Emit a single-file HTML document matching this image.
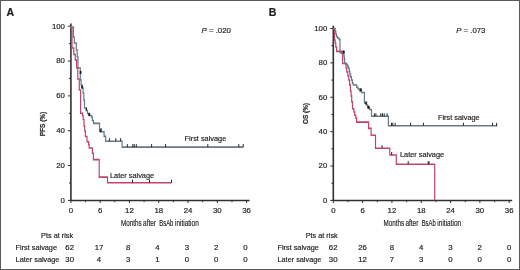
<!DOCTYPE html>
<html><head><meta charset="utf-8"><title>Kaplan-Meier survival curves</title>
<style>
html,body{margin:0;padding:0;background:#fff;}
body{width:520px;height:270px;overflow:hidden;position:relative;}
svg{position:absolute;left:0;top:0;display:block;}
svg text{font-family:"Liberation Sans", sans-serif;fill:#1e1e1e;stroke:#1e1e1e;stroke-width:0.18px;}
svg{will-change:transform;}
</style></head>
<body>
<svg width="520" height="270" viewBox="0 0 520 270">
<rect x="0.5" y="0.5" width="519" height="269" fill="#fff" stroke="#5a5a5a" stroke-width="1"/>
<line x1="70.9" y1="23.4" x2="70.9" y2="201" stroke="#303030" stroke-width="1.6"/>
<line x1="70.3" y1="200.55" x2="249.58" y2="200.55" stroke="#303030" stroke-width="1.55"/>
<line x1="67.9" y1="200.4" x2="70.9" y2="200.4" stroke="#303030" stroke-width="1"/>
<text x="64.9" y="202.7" text-anchor="end" font-size="7.8">0</text>
<line x1="68.9" y1="182.98" x2="70.9" y2="182.98" stroke="#303030" stroke-width="1"/>
<line x1="67.9" y1="165.56" x2="70.9" y2="165.56" stroke="#303030" stroke-width="1"/>
<text x="64.9" y="167.86" text-anchor="end" font-size="7.8">20</text>
<line x1="68.9" y1="148.14" x2="70.9" y2="148.14" stroke="#303030" stroke-width="1"/>
<line x1="67.9" y1="130.72" x2="70.9" y2="130.72" stroke="#303030" stroke-width="1"/>
<text x="64.9" y="133.02" text-anchor="end" font-size="7.8">40</text>
<line x1="68.9" y1="113.3" x2="70.9" y2="113.3" stroke="#303030" stroke-width="1"/>
<line x1="67.9" y1="95.88" x2="70.9" y2="95.88" stroke="#303030" stroke-width="1"/>
<text x="64.9" y="98.18" text-anchor="end" font-size="7.8">60</text>
<line x1="68.9" y1="78.46" x2="70.9" y2="78.46" stroke="#303030" stroke-width="1"/>
<line x1="67.9" y1="61.04" x2="70.9" y2="61.04" stroke="#303030" stroke-width="1"/>
<text x="64.9" y="63.34" text-anchor="end" font-size="7.8">80</text>
<line x1="68.9" y1="43.62" x2="70.9" y2="43.62" stroke="#303030" stroke-width="1"/>
<line x1="67.9" y1="26.2" x2="70.9" y2="26.2" stroke="#303030" stroke-width="1"/>
<text x="64.9" y="28.5" text-anchor="end" font-size="7.8">100</text>
<line x1="70.9" y1="200.4" x2="70.9" y2="203" stroke="#303030" stroke-width="1"/>
<text x="70.9" y="212.6" text-anchor="middle" font-size="7.8">0</text>
<line x1="85.54" y1="200.4" x2="85.54" y2="202.2" stroke="#303030" stroke-width="1"/>
<line x1="100.18" y1="200.4" x2="100.18" y2="203" stroke="#303030" stroke-width="1"/>
<text x="100.18" y="212.6" text-anchor="middle" font-size="7.8">6</text>
<line x1="114.82" y1="200.4" x2="114.82" y2="202.2" stroke="#303030" stroke-width="1"/>
<line x1="129.46" y1="200.4" x2="129.46" y2="203" stroke="#303030" stroke-width="1"/>
<text x="129.46" y="212.6" text-anchor="middle" font-size="7.8">12</text>
<line x1="144.1" y1="200.4" x2="144.1" y2="202.2" stroke="#303030" stroke-width="1"/>
<line x1="158.74" y1="200.4" x2="158.74" y2="203" stroke="#303030" stroke-width="1"/>
<text x="158.74" y="212.6" text-anchor="middle" font-size="7.8">18</text>
<line x1="173.38" y1="200.4" x2="173.38" y2="202.2" stroke="#303030" stroke-width="1"/>
<line x1="188.02" y1="200.4" x2="188.02" y2="203" stroke="#303030" stroke-width="1"/>
<text x="188.02" y="212.6" text-anchor="middle" font-size="7.8">24</text>
<line x1="202.66" y1="200.4" x2="202.66" y2="202.2" stroke="#303030" stroke-width="1"/>
<line x1="217.3" y1="200.4" x2="217.3" y2="203" stroke="#303030" stroke-width="1"/>
<text x="217.3" y="212.6" text-anchor="middle" font-size="7.8">30</text>
<line x1="231.94" y1="200.4" x2="231.94" y2="202.2" stroke="#303030" stroke-width="1"/>
<line x1="246.58" y1="200.4" x2="246.58" y2="203" stroke="#303030" stroke-width="1"/>
<text x="246.58" y="212.6" text-anchor="middle" font-size="7.8">36</text>
<g transform="scale(1,1.35)">
<path d="M70.9,19.407 V20.741 H72 V35.556 H73.8 V40.37 H75.3 V44.444 H76.6 V50.37 H77.8 V58.519 H79.3 V66.667 H80.6 V83.852 H82.5 V85.556 H83.2 V88.519 H84 V93.333 H84.7 V97.037 H85.4 V101.111 H87 V104.963 H88.6 V107.037 H89.2 V109.63 H92.4 V113.481 H93.4 V118.222 H99.2 V131.185 H107.5 V135.333 H171.6" fill="none" stroke="#c2446c" stroke-width="1.2"/>
<path d="M70.9,19.407 V20 H73.4 V27.407 H74.3 V31.852 H76.3 V37.037 H77.2 V42.222 H78 V50.37 H80.3 V59.259 H81.1 V62.963 H82.1 V65.185 H83.1 V68.889 H83.8 V74.074 H84.5 V80 H86 V81.852 H87.5 V84.074 H89.2 V85.556 H91.5 V86.667 H92.3 V89.259 H93.5 V91.407 H99.5 V95.556 H101.5 V97.556 H104.1 V101.037 H105.7 V104.593 H122.1 V108.963 H243.4" fill="none" stroke="#687888" stroke-width="1.2"/>
</g>
<rect x="79.7" y="71" width="1.8" height="3.0" fill="#1a1a1a"/>
<rect x="81.2" y="85.5" width="1.8" height="3.0" fill="#1a1a1a"/>
<rect x="88.3" y="113" width="1.8" height="3.0" fill="#1a1a1a"/>
<rect x="99.4" y="129.3" width="1.8" height="3.0" fill="#1a1a1a"/>
<line x1="109.4" y1="138.2" x2="109.4" y2="141.2" stroke="#262626" stroke-width="1.0"/>
<line x1="115.8" y1="138.2" x2="115.8" y2="141.2" stroke="#262626" stroke-width="1.0"/>
<line x1="120.6" y1="138.2" x2="120.6" y2="141.2" stroke="#262626" stroke-width="1.0"/>
<line x1="127.3" y1="144.1" x2="127.3" y2="147.1" stroke="#262626" stroke-width="1.0"/>
<line x1="132.8" y1="144.1" x2="132.8" y2="147.1" stroke="#262626" stroke-width="1.0"/>
<line x1="134.2" y1="144.1" x2="134.2" y2="147.1" stroke="#262626" stroke-width="1.0"/>
<line x1="136.3" y1="144.1" x2="136.3" y2="147.1" stroke="#262626" stroke-width="1.0"/>
<line x1="151.6" y1="144.1" x2="151.6" y2="147.1" stroke="#262626" stroke-width="1.0"/>
<line x1="165.6" y1="144.1" x2="165.6" y2="147.1" stroke="#262626" stroke-width="1.0"/>
<line x1="207.8" y1="144.1" x2="207.8" y2="147.1" stroke="#262626" stroke-width="1.0"/>
<line x1="238.8" y1="144.1" x2="238.8" y2="147.1" stroke="#262626" stroke-width="1.0"/>
<line x1="243.2" y1="144.1" x2="243.2" y2="147.1" stroke="#262626" stroke-width="1.0"/>
<line x1="86.5" y1="107.5" x2="86.5" y2="110.5" stroke="#262626" stroke-width="1.0"/>
<line x1="132.5" y1="179.7" x2="132.5" y2="182.7" stroke="#262626" stroke-width="1.0"/>
<line x1="149.5" y1="179.7" x2="149.5" y2="182.7" stroke="#262626" stroke-width="1.0"/>
<line x1="171.5" y1="179.7" x2="171.5" y2="182.7" stroke="#262626" stroke-width="1.0"/>
<text x="6.6" y="15.6" font-size="10.6" font-weight="bold" fill="#111" stroke="#111" stroke-width="0.3">A</text>
<text x="201.6" y="33.3" font-size="7.8"><tspan font-style="italic">P</tspan> = .020</text>
<text transform="translate(45.4,124) rotate(-90)" x="0" y="0" text-anchor="middle" font-size="8.1" font-weight="bold" fill="#2a2a2a" stroke-width="0" textLength="24.5" lengthAdjust="spacingAndGlyphs">PFS (%)</text>
<text x="121.05" y="226" font-size="9.8" fill="#1a1a1a" stroke="#1a1a1a" stroke-width="0.55" textLength="20.6" lengthAdjust="spacingAndGlyphs">Months</text>
<text x="143.05" y="226" font-size="9.8" fill="#1a1a1a" stroke="#1a1a1a" stroke-width="0.55" textLength="12.9" lengthAdjust="spacingAndGlyphs">after</text>
<text x="159.25" y="226" font-size="9.8" fill="#1a1a1a" stroke="#1a1a1a" stroke-width="0.55" textLength="14.1" lengthAdjust="spacingAndGlyphs">BsAb</text>
<text x="174.95" y="226" font-size="9.8" fill="#1a1a1a" stroke="#1a1a1a" stroke-width="0.55" textLength="23.8" lengthAdjust="spacingAndGlyphs">initiation</text>
<text x="184.6" y="140.8" font-size="7.35">First salvage</text>
<text x="110.0" y="177.6" font-size="7.35">Later salvage</text>
<text x="73.1" y="237.6" text-anchor="end" font-size="7.3">Pts at risk</text>
<text x="15.6" y="250.4" font-size="7.3">First salvage</text>
<text x="15.6" y="261.5" font-size="7.3">Later salvage</text>
<text x="69.7" y="250.4" text-anchor="middle" font-size="7.8">62</text>
<text x="98.98" y="250.4" text-anchor="middle" font-size="7.8">17</text>
<text x="128.26" y="250.4" text-anchor="middle" font-size="7.8">8</text>
<text x="157.54" y="250.4" text-anchor="middle" font-size="7.8">4</text>
<text x="186.82" y="250.4" text-anchor="middle" font-size="7.8">3</text>
<text x="216.1" y="250.4" text-anchor="middle" font-size="7.8">2</text>
<text x="245.38" y="250.4" text-anchor="middle" font-size="7.8">0</text>
<text x="69.7" y="261.5" text-anchor="middle" font-size="7.8">30</text>
<text x="98.98" y="261.5" text-anchor="middle" font-size="7.8">4</text>
<text x="128.26" y="261.5" text-anchor="middle" font-size="7.8">3</text>
<text x="157.54" y="261.5" text-anchor="middle" font-size="7.8">1</text>
<text x="186.82" y="261.5" text-anchor="middle" font-size="7.8">0</text>
<text x="216.1" y="261.5" text-anchor="middle" font-size="7.8">0</text>
<text x="245.38" y="261.5" text-anchor="middle" font-size="7.8">0</text>
<line x1="333.3" y1="25.7" x2="333.3" y2="201" stroke="#303030" stroke-width="1.6"/>
<line x1="332.7" y1="200.55" x2="512.196" y2="200.55" stroke="#303030" stroke-width="1.55"/>
<line x1="330.3" y1="200.4" x2="333.3" y2="200.4" stroke="#303030" stroke-width="1"/>
<text x="327.3" y="202.7" text-anchor="end" font-size="7.8">0</text>
<line x1="331.3" y1="183.21" x2="333.3" y2="183.21" stroke="#303030" stroke-width="1"/>
<line x1="330.3" y1="166.02" x2="333.3" y2="166.02" stroke="#303030" stroke-width="1"/>
<text x="327.3" y="168.32" text-anchor="end" font-size="7.8">20</text>
<line x1="331.3" y1="148.83" x2="333.3" y2="148.83" stroke="#303030" stroke-width="1"/>
<line x1="330.3" y1="131.64" x2="333.3" y2="131.64" stroke="#303030" stroke-width="1"/>
<text x="327.3" y="133.94" text-anchor="end" font-size="7.8">40</text>
<line x1="331.3" y1="114.45" x2="333.3" y2="114.45" stroke="#303030" stroke-width="1"/>
<line x1="330.3" y1="97.26" x2="333.3" y2="97.26" stroke="#303030" stroke-width="1"/>
<text x="327.3" y="99.56" text-anchor="end" font-size="7.8">60</text>
<line x1="331.3" y1="80.07" x2="333.3" y2="80.07" stroke="#303030" stroke-width="1"/>
<line x1="330.3" y1="62.88" x2="333.3" y2="62.88" stroke="#303030" stroke-width="1"/>
<text x="327.3" y="65.18" text-anchor="end" font-size="7.8">80</text>
<line x1="331.3" y1="45.69" x2="333.3" y2="45.69" stroke="#303030" stroke-width="1"/>
<line x1="330.3" y1="28.5" x2="333.3" y2="28.5" stroke="#303030" stroke-width="1"/>
<text x="327.3" y="30.8" text-anchor="end" font-size="7.8">100</text>
<line x1="333.3" y1="200.4" x2="333.3" y2="203" stroke="#303030" stroke-width="1"/>
<text x="333.3" y="212.6" text-anchor="middle" font-size="7.8">0</text>
<line x1="347.958" y1="200.4" x2="347.958" y2="202.2" stroke="#303030" stroke-width="1"/>
<line x1="362.616" y1="200.4" x2="362.616" y2="203" stroke="#303030" stroke-width="1"/>
<text x="362.616" y="212.6" text-anchor="middle" font-size="7.8">6</text>
<line x1="377.274" y1="200.4" x2="377.274" y2="202.2" stroke="#303030" stroke-width="1"/>
<line x1="391.932" y1="200.4" x2="391.932" y2="203" stroke="#303030" stroke-width="1"/>
<text x="391.932" y="212.6" text-anchor="middle" font-size="7.8">12</text>
<line x1="406.59" y1="200.4" x2="406.59" y2="202.2" stroke="#303030" stroke-width="1"/>
<line x1="421.248" y1="200.4" x2="421.248" y2="203" stroke="#303030" stroke-width="1"/>
<text x="421.248" y="212.6" text-anchor="middle" font-size="7.8">18</text>
<line x1="435.906" y1="200.4" x2="435.906" y2="202.2" stroke="#303030" stroke-width="1"/>
<line x1="450.564" y1="200.4" x2="450.564" y2="203" stroke="#303030" stroke-width="1"/>
<text x="450.564" y="212.6" text-anchor="middle" font-size="7.8">24</text>
<line x1="465.222" y1="200.4" x2="465.222" y2="202.2" stroke="#303030" stroke-width="1"/>
<line x1="479.88" y1="200.4" x2="479.88" y2="203" stroke="#303030" stroke-width="1"/>
<text x="479.88" y="212.6" text-anchor="middle" font-size="7.8">30</text>
<line x1="494.538" y1="200.4" x2="494.538" y2="202.2" stroke="#303030" stroke-width="1"/>
<line x1="509.196" y1="200.4" x2="509.196" y2="203" stroke="#303030" stroke-width="1"/>
<text x="509.196" y="212.6" text-anchor="middle" font-size="7.8">36</text>
<g transform="scale(1,1.35)">
<path d="M333.3,21.111 V21.481 H334.5 V29.63 H335.2 V31.852 H335.8 V34.815 H336.6 V38.074 H342.6 V47.037 H346 V50.37 H346.8 V53.333 H347.8 V56.148 H348.8 V59.259 H349.6 V62.963 H350.4 V67.407 H351.1 V71.111 H351.7 V75.481 H352.5 V80.593 H353.8 V82.963 H354.8 V85.333 H355.8 V87.407 H356.6 V90.444 H368.6 V95.111 H371.1 V100.222 H375.5 V109.778 H389.8 V114.815 H396.3 V121.63 H434.7 V148.444" fill="none" stroke="#c2446c" stroke-width="1.2"/>
<path d="M333.3,21.111 H335.2 V23.333 H335.8 V25.185 H336.5 V27.037 H337.5 V28.148 H339 V29.259 H340 V38.889 H341.5 V39.63 H343.9 V41.481 H344.3 V43.704 H344.7 V47.037 H346.5 V47.778 H347.5 V49.111 H348.3 V50.37 H349.2 V52.593 H349.8 V54.815 H350.6 V56.963 H351.5 V59.259 H352.4 V61.704 H353.3 V62.963 H356.7 V64.667 H357.9 V65.926 H359.5 V67.259 H361.5 V68.519 H364.4 V76.296 H366.3 V77.778 H367.6 V79.778 H369.5 V81.111 H371.5 V86.148 H388.4 V93.185 H497.3" fill="none" stroke="#687888" stroke-width="1.2"/>
</g>
<rect x="342.9" y="50.5" width="1.8" height="3.0" fill="#1a1a1a"/>
<rect x="359.9" y="88.3" width="1.8" height="3.0" fill="#1a1a1a"/>
<rect x="365.3" y="101.5" width="1.8" height="3.0" fill="#1a1a1a"/>
<rect x="367.7" y="105.7" width="1.8" height="3.0" fill="#1a1a1a"/>
<line x1="374.4" y1="113.3" x2="374.4" y2="116.3" stroke="#262626" stroke-width="1.0"/>
<line x1="375.9" y1="113.3" x2="375.9" y2="116.3" stroke="#262626" stroke-width="1.0"/>
<line x1="380.8" y1="113.3" x2="380.8" y2="116.3" stroke="#262626" stroke-width="1.0"/>
<line x1="382.5" y1="113.3" x2="382.5" y2="116.3" stroke="#262626" stroke-width="1.0"/>
<line x1="384.2" y1="113.3" x2="384.2" y2="116.3" stroke="#262626" stroke-width="1.0"/>
<line x1="387.1" y1="113.3" x2="387.1" y2="116.3" stroke="#262626" stroke-width="1.0"/>
<line x1="391.5" y1="122.8" x2="391.5" y2="125.8" stroke="#262626" stroke-width="1.0"/>
<line x1="392.8" y1="122.8" x2="392.8" y2="125.8" stroke="#262626" stroke-width="1.0"/>
<line x1="395.1" y1="122.8" x2="395.1" y2="125.8" stroke="#262626" stroke-width="1.0"/>
<line x1="410.6" y1="122.8" x2="410.6" y2="125.8" stroke="#262626" stroke-width="1.0"/>
<line x1="423.4" y1="122.8" x2="423.4" y2="125.8" stroke="#262626" stroke-width="1.0"/>
<line x1="463.4" y1="122.8" x2="463.4" y2="125.8" stroke="#262626" stroke-width="1.0"/>
<line x1="492.6" y1="122.8" x2="492.6" y2="125.8" stroke="#262626" stroke-width="1.0"/>
<line x1="496.6" y1="122.8" x2="496.6" y2="125.8" stroke="#262626" stroke-width="1.0"/>
<line x1="382.1" y1="145.2" x2="382.1" y2="148.2" stroke="#262626" stroke-width="1.0"/>
<line x1="391.7" y1="152" x2="391.7" y2="155" stroke="#262626" stroke-width="1.0"/>
<line x1="408.2" y1="161.2" x2="408.2" y2="164.2" stroke="#262626" stroke-width="1.0"/>
<line x1="428.2" y1="161.2" x2="428.2" y2="164.2" stroke="#262626" stroke-width="1.0"/>
<line x1="429" y1="161.2" x2="429" y2="164.2" stroke="#262626" stroke-width="1.0"/>
<text x="268.7" y="16.1" font-size="10.6" font-weight="bold" fill="#111" stroke="#111" stroke-width="0.3">B</text>
<text x="456.2" y="33.3" font-size="7.8"><tspan font-style="italic">P</tspan> = .073</text>
<text transform="translate(307.6,113.5) rotate(-90)" x="0" y="0" text-anchor="middle" font-size="8.1" font-weight="bold" fill="#2a2a2a" stroke-width="0" textLength="21" lengthAdjust="spacingAndGlyphs">OS (%)</text>
<text x="383.45" y="226.2" font-size="9.8" fill="#1a1a1a" stroke="#1a1a1a" stroke-width="0.55" textLength="20.6" lengthAdjust="spacingAndGlyphs">Months</text>
<text x="405.45" y="226.2" font-size="9.8" fill="#1a1a1a" stroke="#1a1a1a" stroke-width="0.55" textLength="12.9" lengthAdjust="spacingAndGlyphs">after</text>
<text x="421.65" y="226.2" font-size="9.8" fill="#1a1a1a" stroke="#1a1a1a" stroke-width="0.55" textLength="14.1" lengthAdjust="spacingAndGlyphs">BsAb</text>
<text x="437.35" y="226.2" font-size="9.8" fill="#1a1a1a" stroke="#1a1a1a" stroke-width="0.55" textLength="23.8" lengthAdjust="spacingAndGlyphs">initiation</text>
<text x="438.0" y="119.7" font-size="7.35">First salvage</text>
<text x="400.0" y="156.8" font-size="7.35">Later salvage</text>
<text x="337.7" y="237.6" text-anchor="end" font-size="7.3">Pts at risk</text>
<text x="277.5" y="250.4" font-size="7.3">First salvage</text>
<text x="277.5" y="261.5" font-size="7.3">Later salvage</text>
<text x="333.2" y="250.4" text-anchor="middle" font-size="7.8">62</text>
<text x="362.516" y="250.4" text-anchor="middle" font-size="7.8">26</text>
<text x="391.832" y="250.4" text-anchor="middle" font-size="7.8">8</text>
<text x="421.148" y="250.4" text-anchor="middle" font-size="7.8">4</text>
<text x="450.464" y="250.4" text-anchor="middle" font-size="7.8">3</text>
<text x="479.78" y="250.4" text-anchor="middle" font-size="7.8">2</text>
<text x="509.096" y="250.4" text-anchor="middle" font-size="7.8">0</text>
<text x="333.2" y="261.5" text-anchor="middle" font-size="7.8">30</text>
<text x="362.516" y="261.5" text-anchor="middle" font-size="7.8">12</text>
<text x="391.832" y="261.5" text-anchor="middle" font-size="7.8">7</text>
<text x="421.148" y="261.5" text-anchor="middle" font-size="7.8">3</text>
<text x="450.464" y="261.5" text-anchor="middle" font-size="7.8">0</text>
<text x="479.78" y="261.5" text-anchor="middle" font-size="7.8">0</text>
<text x="509.096" y="261.5" text-anchor="middle" font-size="7.8">0</text>
</svg>
</body></html>
